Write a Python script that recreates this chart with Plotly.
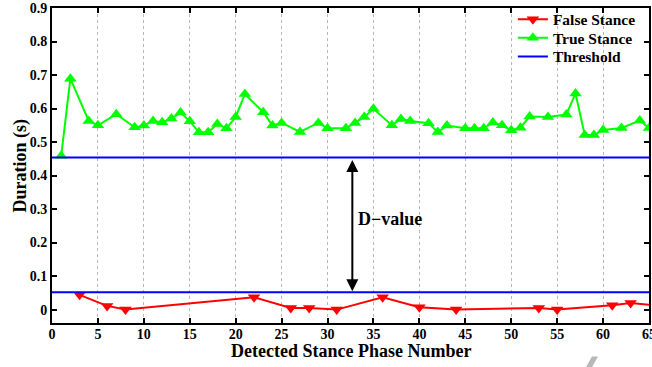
import plotly.graph_objects as go

# ---- data ----
true_x = [1, 2, 4, 5, 7, 9, 10, 11, 12, 13, 14, 15, 16, 17, 18, 19, 20, 21, 23, 24, 25, 27, 29, 30,
          32, 33, 34, 35, 37, 38, 39, 41, 42, 43, 45, 46, 47, 48, 49, 50, 51, 52, 54, 56, 57, 58, 59,
          60, 62, 64, 65]
true_y = [0.459, 0.689, 0.563, 0.550, 0.583, 0.544, 0.549, 0.563, 0.559, 0.570, 0.588, 0.562, 0.529,
          0.529, 0.554, 0.541, 0.575, 0.643, 0.589, 0.549, 0.557, 0.530, 0.557, 0.541,
          0.541, 0.557, 0.575, 0.599, 0.550, 0.569, 0.563, 0.556, 0.530, 0.549, 0.541, 0.541, 0.541,
          0.558, 0.550, 0.535, 0.543, 0.576, 0.575, 0.582, 0.645, 0.521, 0.521, 0.536, 0.542, 0.564,
          0.542]
false_x = [3, 6, 8, 22, 26, 28, 31, 36, 40, 44, 53, 55, 61, 63, 66]
false_y = [0.044, 0.011, 0.0, 0.037, 0.005, 0.005, 0.0, 0.037, 0.007, 0.0, 0.005, 0.0, 0.013, 0.020, 0.012]
threshold_high = 0.454
threshold_low = 0.052
x_range = [0, 65]
y_range = [-0.04, 0.9]
x_ticks = list(range(0, 66, 5))
y_ticks = [0, 0.1, 0.2, 0.3, 0.4, 0.5, 0.6, 0.7, 0.8, 0.9]
y_tick_text = ["0", "0.1", "0.2", "0.3", "0.4", "0.5", "0.6", "0.7", "0.8", "0.9"]
dvalue_x = 32.7

FONT = "Liberation Serif, Times New Roman, serif"

fig = go.Figure()
fig.add_trace(go.Scatter(x=false_x, y=false_y, mode="lines+markers", name="<b>False Stance</b>",
                         line=dict(color="#ff0000", width=2), legend="legend",
                         marker=dict(symbol="triangle-down", size=11, color="#ff0000"),
                         cliponaxis=True))
fig.add_trace(go.Scatter(x=true_x, y=true_y, mode="lines+markers", name="<b>True Stance</b>",
                         line=dict(color="#00ff00", width=2), legend="legend2",
                         marker=dict(symbol="triangle-up", size=11, color="#00ff00"),
                         cliponaxis=True))
fig.add_trace(go.Scatter(x=[x_range[0], x_range[1], None, x_range[0], x_range[1]],
                         y=[threshold_high, threshold_high, None, threshold_low, threshold_low],
                         mode="lines", name="<b>Threshold</b>", legend="legend3",
                         line=dict(color="#0000ff", width=2)))

# double-headed arrow
fig.add_annotation(x=dvalue_x, y=threshold_low, ax=dvalue_x, ay=threshold_high,
                   xref="x", yref="y", axref="x", ayref="y", text="",
                   showarrow=True, arrowhead=2, startarrowhead=2, arrowside="end+start",
                   arrowwidth=2, arrowsize=1.2, startarrowsize=1.2, arrowcolor="black",
                   standoff=1, startstandoff=1)
fig.add_annotation(x=dvalue_x + 0.35, y=0.27, xref="x", yref="y", text="<b>D−value</b>",
                   showarrow=False, xanchor="left", yanchor="middle",
                   font=dict(family=FONT, size=18, color="black"))

# axis titles
fig.add_annotation(x=0.5, y=-0.09, xref="paper", yref="paper",
                   text="<b>Detected Stance Phase Number</b>", showarrow=False,
                   xanchor="center", yanchor="middle",
                   font=dict(family=FONT, size=18, color="black"))
fig.add_annotation(x=-0.0536, y=0.5, xref="paper", yref="paper",
                   text="<b>Duration (s)</b>", showarrow=False, textangle=-90,
                   xanchor="center", yanchor="middle",
                   font=dict(family=FONT, size=18, color="black"))

# legend background (covers grid lines, as in the reference)
fig.add_shape(type="rect", xref="paper", yref="paper", x0=0.79, x1=0.995, y0=0.745, y1=1.0,
              fillcolor="white", line=dict(width=0), layer="between")

# scan artifact
fig.add_shape(type="path", xref="paper", yref="paper",
              path="M 0.9045 -0.106 L 0.9146 -0.106 L 0.9045 -0.14 L 0.8945 -0.14 Z",
              fillcolor="#b8b8b8", line=dict(width=0), layer="above")

axis_common = dict(showline=True, linecolor="black", linewidth=2, mirror="ticks",
                   ticks="inside", ticklen=5, tickwidth=1.5, tickcolor="black",
                   zeroline=False, automargin=False, ticklabeloverflow="allow",
                   tickfont=dict(family=FONT, size=14, color="black"))

fig.update_xaxes(range=x_range, tickvals=x_ticks, ticktext=[f"<b>{v}</b>" for v in x_ticks],
                 showgrid=True, gridcolor="#b8b8b8", griddash="dot", gridwidth=1,
                 ticklabelstandoff=-3,
                 **axis_common)
fig.update_yaxes(range=y_range, tickvals=y_ticks, ticktext=[f"<b>{t}</b>" for t in y_tick_text],
                 showgrid=False,
                 **axis_common)

leg_common = dict(x=0.772, xanchor="left", yanchor="middle", bgcolor="rgba(0,0,0,0)",
                  borderwidth=0, font=dict(family=FONT, size=15.5, color="black"))
fig.update_layout(template="none", width=652, height=367, margin=dict(l=52, r=3, t=3, b=44),
                  paper_bgcolor="white", plot_bgcolor="white",
                  font=dict(family=FONT, color="black"),
                  legend=dict(y=0.963, **leg_common),
                  legend2=dict(y=0.904, **leg_common),
                  legend3=dict(y=0.845, **leg_common),
                  showlegend=True)

fig.write_html("out.html", config={"displayModeBar": False},
               post_script="document.body.style.margin='0';document.body.style.overflow='hidden';")
